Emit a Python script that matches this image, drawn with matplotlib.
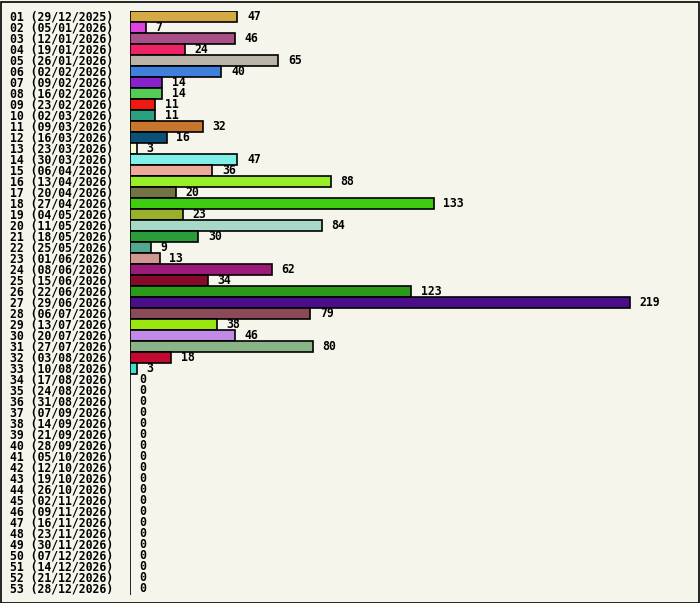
import matplotlib.pyplot as plt
import matplotlib.transforms as mtransforms
from matplotlib.patches import Rectangle

# weekly counts, week number + week start date
weeks = ["%02d" % i for i in range(1, 54)]
week_start = [
    "29/12/2025", "05/01/2026", "12/01/2026", "19/01/2026", "26/01/2026", "02/02/2026",
    "09/02/2026", "16/02/2026", "23/02/2026", "02/03/2026", "09/03/2026", "16/03/2026",
    "23/03/2026", "30/03/2026", "06/04/2026", "13/04/2026", "20/04/2026", "27/04/2026",
    "04/05/2026", "11/05/2026", "18/05/2026", "25/05/2026", "01/06/2026", "08/06/2026",
    "15/06/2026", "22/06/2026", "29/06/2026", "06/07/2026", "13/07/2026", "20/07/2026",
    "27/07/2026", "03/08/2026", "10/08/2026", "17/08/2026", "24/08/2026", "31/08/2026",
    "07/09/2026", "14/09/2026", "21/09/2026", "28/09/2026", "05/10/2026", "12/10/2026",
    "19/10/2026", "26/10/2026", "02/11/2026", "09/11/2026", "16/11/2026", "23/11/2026",
    "30/11/2026", "07/12/2026", "14/12/2026", "21/12/2026", "28/12/2026",
]
counts = [47, 7, 46, 24, 65, 40, 14, 14, 11, 11, 32, 16, 3, 47, 36, 88, 20, 133,
          23, 84, 30, 9, 13, 62, 34, 123, 219, 79, 38, 46, 80, 18, 3] + [0] * 20
colors = [
    "#d4aa44", "#dd44dd", "#aa5088", "#ee2266", "#bbb2a8", "#4080dd", "#8822cc",
    "#55cc55", "#ee1a11", "#2aa080", "#c8752e", "#0a5077", "#f5fcd0", "#7ff0e8",
    "#eeaa99", "#99ee2a", "#737344", "#3ecc10", "#99b02a", "#a8d8c8", "#2c9c3a",
    "#55a890", "#d09890", "#9c1a7a", "#880a2a", "#2a9a1a", "#4a0e8a", "#8a4a58",
    "#99e610", "#c08ae6", "#88b488", "#c00a30", "#44ddcc",
] + ["#ffffff"] * 20

bg = "#f5f5eb"
W, H = 700, 603
fig = plt.figure(figsize=(W / 100, H / 100), dpi=100, facecolor=bg)

# bar area: x starts at 130px, 219 -> 500px
px_per_unit = 500 / 219
ax_w = 560
ax = fig.add_axes([130 / W, 8.5 / H, ax_w / W, 583.5 / H])
ax.set_facecolor("none")
ax.set_xlim(0, ax_w / px_per_unit)
ax.set_ylim(len(weeks) + 0.5, 0.5)
ax.axis("off")

ypos = list(range(1, len(weeks) + 1))
ax.barh(ypos, counts, height=1.0, color=colors, edgecolor="black", linewidth=1.2)

font = dict(family="DejaVu Sans Mono", fontweight="bold", fontsize=8.3)
trans = mtransforms.blended_transform_factory(fig.transFigure, ax.transData)
for y, w, d, v in zip(ypos, weeks, week_start, counts):
    ax.text(10 / W, y, "%s (%s)" % (w, d), transform=trans, ha="left", va="center", **font)
    ax.annotate(str(v), (v, y), xytext=(7, 0), textcoords="offset points",
                ha="left", va="center", **font)

fig.patches.append(Rectangle((0.5 / W, 0.5 / H), (W - 2) / W, (H - 2) / H,
                             transform=fig.transFigure, fill=False,
                             edgecolor="black", linewidth=1.2))

fig.savefig("out.png", dpi=100, facecolor=bg)
